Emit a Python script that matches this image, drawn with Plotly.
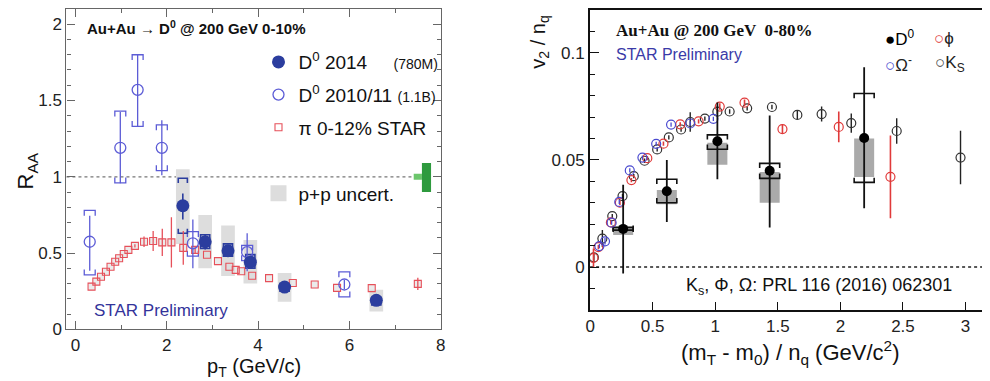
import plotly.graph_objects as go

# ---------------- Left panel: R_AA vs pT ----------------
d14_pt = [2.35, 2.84, 3.34, 3.83, 4.58, 6.59]
d14_raa = [0.81, 0.574, 0.515, 0.44, 0.277, 0.19]
d14_stat_up = [0.08, 0.05, 0.03, 0.03, 0.02, 0.02]
d14_stat_dn = [0.09, 0.05, 0.03, 0.03, 0.02, 0.02]
d14_sys_hi = [0.99, 0.62, 0.56, 0.49, 0.30, 0.21]
d14_sys_lo = [0.63, 0.53, 0.48, 0.40, 0.25, 0.16]
d14_pp_hi = [1.05, 0.75, 0.68, 0.585, 0.37, 0.26]
d14_pp_lo = [0.56, 0.40, 0.35, 0.30, 0.18, 0.117]

d11_pt = [0.31, 0.98, 1.36, 1.89, 2.57, 3.76, 5.89]
d11_raa = [0.574, 1.19, 1.57, 1.19, 0.564, 0.506, 0.294]
d11_stat_up = [0.17, 0.235, 0.23, 0.18, 0.156, 0.124, 0.03]
d11_stat_dn = [0.19, 0.233, 0.24, 0.18, 0.164, 0.126, 0.03]
d11_sys_hi = [0.78, 1.43, 1.80, 1.34, 0.64, 0.55, 0.377]
d11_sys_lo = [0.357, 0.96, 1.33, 1.04, 0.48, 0.45, 0.213]

pi_pt = [0.35, 0.455, 0.557, 0.665, 0.766, 0.868, 0.954, 1.056, 1.157, 1.30, 1.50,
         1.70, 1.90, 2.10, 2.36, 2.62, 2.88, 3.12, 3.37, 3.51, 3.63, 3.87, 4.24,
         4.76, 5.24, 5.73, 6.49, 7.50]
pi_raa = [0.28, 0.313, 0.345, 0.377, 0.41, 0.443, 0.466, 0.494, 0.521, 0.547, 0.574,
          0.579, 0.57, 0.57, 0.534, 0.521, 0.489, 0.447, 0.41, 0.39, 0.381, 0.351, 0.336,
          0.304, 0.294, 0.272, 0.27, 0.298]
pi_err = [0, 0, 0, 0, 0, 0, 0, 0, 0, 0.01, 0.035, 0.065, 0.09, 0.165, 0.11, 0.02, 0,
          0, 0, 0, 0, 0, 0, 0, 0, 0, 0, 0.04]
pi_sys = [0.025] * len(pi_pt)

norm_x = [7.50, 7.69]
norm_hw = [0.09, 0.10]
norm_lo = [0.98, 0.90]
norm_hi = [1.02, 1.09]
norm_col = ["#6cc66c", "#2e9a3e"]
raa_ref = 1.0

# ---------------- Right panel: v2/nq vs (mT-m0)/nq ----------------
d0_x = [0.264, 0.613, 1.017, 1.435, 2.19]
d0_v2 = [0.0178, 0.0354, 0.0587, 0.0449, 0.0602]
d0_stat_up = [0.0206, 0.0146, 0.0181, 0.0258, 0.033]
d0_stat_dn = [0.0208, 0.0144, 0.0177, 0.0264, 0.0328]
d0_sys_hi = [0.0185, 0.041, 0.0617, 0.0484, 0.081]
d0_sys_lo = [0.0172, 0.030, 0.055, 0.0414, 0.0395]
d0_nf_hi = [0.0188, 0.036, 0.058, 0.0444, 0.060]
d0_nf_lo = [0.015, 0.0293, 0.0477, 0.030, 0.042]

phi_x = [0.027, 0.066, 0.166, 0.238, 0.33, 0.457, 0.586, 0.72, 0.867, 1.036, 1.234,
         1.537, 1.987, 2.40]
phi_v2 = [0.0042, 0.0093, 0.0208, 0.0300, 0.0406, 0.0508, 0.0576, 0.0666, 0.068,
          0.0749, 0.0767, 0.0644, 0.0654, 0.0421]
phi_err = [0.0045, 0.001, 0.001, 0.001, 0.001, 0.001, 0.001, 0.001, 0.001, 0.0015,
           0.0015, 0.002, 0.0072, 0.0193]

om_x = [0.074, 0.119, 0.172, 0.233, 0.317, 0.418, 0.528, 0.647, 0.80, 0.985]
om_v2 = [0.0098, 0.012, 0.0207, 0.0304, 0.0451, 0.0511, 0.0575, 0.0665, 0.067, 0.0692]
om_err = [0.001, 0.0015, 0.001, 0.001, 0.001, 0.001, 0.001, 0.001, 0.001, 0.001]

ks_x = [0.03, 0.098, 0.177, 0.259, 0.349, 0.435, 0.536, 0.629, 0.727, 0.80, 0.917,
        1.017, 1.115, 1.255, 1.453, 1.656, 1.85, 2.087, 2.45, 2.96]
ks_v2 = [0.0045, 0.0133, 0.0238, 0.0331, 0.0424, 0.0496, 0.0549, 0.0605, 0.0642,
         0.0677, 0.0693, 0.0725, 0.0726, 0.0741, 0.0747, 0.071, 0.0714, 0.0672,
         0.0635, 0.0511]
ks_err = [0.002, 0.004, 0.001, 0.001, 0.001, 0.001, 0.001, 0.001, 0.001, 0.0045,
          0.001, 0.001, 0.001, 0.001, 0.001, 0.002, 0.0035, 0.0045, 0.006, 0.0125]
v2_ref = 0.0

FONT = "Liberation Sans, Arial, sans-serif"
SERIF = "Liberation Serif, Times New Roman, serif"

BLUE = "#2b3d9e"
LBLUE = "#5c5cd6"
RED = "#e6505a"


def bracket_path(xs, his, los, hw, tick):
    px, py = [], []
    for x, hi, lo in zip(xs, his, los):
        px += [x - hw, x - hw, x + hw, x + hw, None, x - hw, x - hw, x + hw, x + hw, None]
        py += [hi - tick, hi, hi, hi - tick, None, lo + tick, lo, lo, lo + tick, None]
    return px, py


fig = go.Figure()

# ---- left boxes ----
for x, y, s in zip(pi_pt, pi_raa, pi_sys):
    fig.add_shape(type="rect", xref="x", yref="y", x0=x - 0.07, x1=x + 0.07,
                  y0=y - s, y1=y + s, fillcolor="#ebebeb", line_width=0, layer="below")
for x, lo, hi in zip(d14_pt, d14_pp_lo, d14_pp_hi):
    fig.add_shape(type="rect", xref="x", yref="y", x0=x - 0.15, x1=x + 0.15,
                  y0=lo, y1=hi, fillcolor="#dddddd", line_width=0, layer="below")
for x, hw, lo, hi, c in zip(norm_x, norm_hw, norm_lo, norm_hi, norm_col):
    fig.add_shape(type="rect", xref="x", yref="y", x0=x - hw, x1=x + hw,
                  y0=lo, y1=hi, fillcolor=c, line_width=0)
fig.add_shape(type="line", xref="x domain", yref="y", x0=0, x1=0.93, y0=raa_ref,
              y1=raa_ref, line=dict(color="#777777", width=1.2, dash="dot"), layer="below")

# ---- left traces ----
bx, by = bracket_path(d11_pt, d11_sys_hi, d11_sys_lo, 0.12, 0.035)
fig.add_trace(go.Scatter(x=bx, y=by, mode="lines", line=dict(color=LBLUE, width=1.3),
                         showlegend=False, hoverinfo="skip", xaxis="x", yaxis="y"))
bx, by = bracket_path(d14_pt, d14_sys_hi, d14_sys_lo, 0.1, 0.03)
fig.add_trace(go.Scatter(x=bx, y=by, mode="lines", line=dict(color=BLUE, width=1.6),
                         showlegend=False, hoverinfo="skip", xaxis="x", yaxis="y"))

fig.add_trace(go.Scatter(
    x=pi_pt, y=pi_raa, mode="markers", name="π 0-12% STAR",
    marker=dict(symbol="square-open", size=7, color=RED, line=dict(width=1.1)),
    error_y=dict(type="data", array=pi_err, color=RED, thickness=1.3, width=0),
    xaxis="x", yaxis="y", legend="legend", legendgroup="c", legendrank=3))
fig.add_trace(go.Scatter(
    x=d11_pt, y=d11_raa, mode="markers",
    name="D<sup>0</sup> 2010/11 <span style='font-size:14px'>(1.1B)</span>",
    marker=dict(symbol="circle-open", size=11, color=LBLUE, line=dict(width=1.3)),
    error_y=dict(type="data", array=d11_stat_up, arrayminus=d11_stat_dn, color=LBLUE,
                 thickness=1.3, width=0),
    xaxis="x", yaxis="y", legend="legend", legendgroup="b", legendrank=2))
fig.add_trace(go.Scatter(
    x=d14_pt, y=d14_raa, mode="markers",
    name="D<sup>0</sup> 2014     <span style='font-size:14px'>(780M)</span>",
    marker=dict(symbol="circle", size=13, color=BLUE),
    error_y=dict(type="data", array=d14_stat_up, arrayminus=d14_stat_dn, color=BLUE,
                 thickness=1.6, width=0),
    xaxis="x", yaxis="y", legend="legend", legendgroup="a", legendrank=1))
fig.add_trace(go.Scatter(
    x=[None], y=[None], mode="markers", name="p+p uncert.",
    marker=dict(symbol="square", size=20, color="#dddddd"),
    xaxis="x", yaxis="y", legend="legend2"))

# ---- right boxes ----
for x, lo, hi in zip(d0_x, d0_nf_lo, d0_nf_hi):
    fig.add_shape(type="rect", xref="x2", yref="y2", x0=x - 0.08, x1=x + 0.08,
                  y0=lo, y1=hi, fillcolor="#aaaaaa", line_width=0, layer="below")
fig.add_shape(type="line", xref="x2 domain", yref="y2", x0=0, x1=1, y0=v2_ref,
              y1=v2_ref, line=dict(color="#222222", width=1.5, dash="dot"), layer="below")

bx, by = bracket_path(d0_x, d0_sys_hi, d0_sys_lo, 0.08, 0.0022)
fig.add_trace(go.Scatter(x=bx, y=by, mode="lines", line=dict(color="#111111", width=1.6),
                         showlegend=False, hoverinfo="skip", xaxis="x2", yaxis="y2"))

fig.add_trace(go.Scatter(
    x=ks_x, y=ks_v2, mode="markers", showlegend=False,
    marker=dict(symbol="circle-open", size=9, color="#333333", line=dict(width=1.2)),
    error_y=dict(type="data", array=ks_err, color="#222222", thickness=1.4, width=0),
    xaxis="x2", yaxis="y2"))
fig.add_trace(go.Scatter(
    x=phi_x, y=phi_v2, mode="markers", showlegend=False,
    marker=dict(symbol="circle-open", size=9, color="#e03a3a", line=dict(width=1.2)),
    error_y=dict(type="data", array=phi_err, color="#e03a3a", thickness=1.6, width=0),
    xaxis="x2", yaxis="y2"))
fig.add_trace(go.Scatter(
    x=om_x, y=om_v2, mode="markers", showlegend=False,
    marker=dict(symbol="circle-open", size=9, color="#4a4ad0", line=dict(width=1.2)),
    error_y=dict(type="data", array=om_err, color="#4a4ad0", thickness=1.3, width=0),
    xaxis="x2", yaxis="y2"))
fig.add_trace(go.Scatter(
    x=d0_x, y=d0_v2, mode="markers", showlegend=False,
    marker=dict(symbol="circle", size=10, color="#000000"),
    error_y=dict(type="data", array=d0_stat_up, arrayminus=d0_stat_dn, color="#111111",
                 thickness=1.8, width=0),
    xaxis="x2", yaxis="y2"))

W, H = 990, 381


def px(x):
    return x / W


def py(y):
    return 1 - y / H


ann = [
    dict(text="<b>Au+Au → D<sup>0</sup> @ 200 GeV 0-10%</b>", x=px(73), y=py(20),
         xanchor="left", yanchor="middle", font=dict(family=FONT, size=15, color="#111")),
    dict(text="STAR Preliminary", x=px(80), y=py(311), xanchor="left", yanchor="middle",
         font=dict(family=FONT, size=17, color="#33339a")),
    dict(text="R<sub>AA</sub>", x=px(14), y=py(167), textangle=-90, xanchor="center",
         yanchor="middle", font=dict(family=FONT, size=22, color="#111")),
    dict(text="p<sub>T</sub> (GeV/c)", x=px(243), y=py(369), xanchor="center",
         yanchor="middle", font=dict(family=FONT, size=20, color="#111")),
    dict(text="<b>Au+Au @ 200 GeV  0-80%</b>", x=px(607), y=py(23), xanchor="left",
         yanchor="middle", font=dict(family=SERIF, size=17, color="#111")),
    dict(text="STAR Preliminary", x=px(607), y=py(48), xanchor="left", yanchor="middle",
         font=dict(family=FONT, size=16, color="#3a3aa8")),
    dict(text="K<sub>s</sub>, Φ, Ω: PRL 116 (2016) 062301", x=px(678), y=py(286),
         xanchor="left", yanchor="middle", font=dict(family=FONT, size=18, color="#111")),
    dict(text="v<sub>2</sub> / n<sub>q</sub>", x=px(531), y=py(35), textangle=-90,
         xanchor="center", yanchor="middle", font=dict(family=FONT, size=20, color="#111")),
    dict(text="(m<sub>T</sub> - m<sub>0</sub>) / n<sub>q</sub> (GeV/c<sup>2</sup>)",
         x=px(785), y=py(354), xanchor="center", yanchor="middle",
         font=dict(family=FONT, size=22, color="#111")),
    dict(text="●D<sup>0</sup>", x=px(879), y=py(31), xanchor="left", yanchor="middle",
         font=dict(family=FONT, size=17, color="#000")),
    dict(text="<span style='color:#e03a3a'>○</span>ϕ", x=px(928), y=py(31),
         xanchor="left", yanchor="middle", font=dict(family=FONT, size=17, color="#222")),
    dict(text="<span style='color:#4a4ad0'>○</span>Ω<sup>-</sup>", x=px(879), y=py(57),
         xanchor="left", yanchor="middle", font=dict(family=FONT, size=17, color="#222")),
    dict(text="<span style='color:#444'>○</span>K<sub>S</sub>", x=px(929), y=py(57),
         xanchor="left", yanchor="middle", font=dict(family=FONT, size=17, color="#222")),
]
for a in ann:
    a.update(xref="paper", yref="paper", showarrow=False)

GRAY = "#666666"
left_x = dict(domain=[px(54), px(432)], range=[-0.2, 8], tickvals=[0, 2, 4, 6, 8],
              ticks="inside", ticklen=8, tickcolor=GRAY, showline=True, linecolor=GRAY,
              linewidth=1.2, mirror="ticks", showgrid=False, zeroline=False,
              minor=dict(ticks="inside", ticklen=4, dtick=1, tickcolor=GRAY),
              tickfont=dict(family=FONT, size=17, color="#222"), anchor="y", fixedrange=True)
left_y = dict(domain=[py(330), py(1)], range=[0, 2.1], tickvals=[0, 0.5, 1, 1.5, 2],
              ticktext=["0", "0.5", "1", "1.5", "2"],
              ticks="inside", ticklen=8, tickcolor=GRAY, showline=True, linecolor=GRAY,
              linewidth=1.2, mirror="ticks", showgrid=False, zeroline=False,
              minor=dict(ticks="inside", ticklen=4, dtick=0.1, tickcolor=GRAY),
              tickfont=dict(family=FONT, size=17, color="#222"), anchor="x", fixedrange=True)
right_x = dict(domain=[px(583), px(985)], range=[0, 3.18],
               tickvals=[0, 0.5, 1, 1.5, 2, 2.5, 3], ticktext=["0", "0.5", "1", "1.5", "2", "2.5", "3"],
               ticks="inside", ticklen=8, tickcolor="#111", showline=True, linecolor="#111",
               linewidth=2, mirror=True, showgrid=False, zeroline=False,
               tickfont=dict(family=FONT, size=17, color="#222"), anchor="y2", fixedrange=True)
right_y = dict(domain=[py(310), py(2)], range=[-0.02, 0.12], tickvals=[0, 0.05, 0.1],
               ticktext=["0", "0.05", "0.1"],
               ticks="inside", ticklen=9, tickcolor="#111", showline=True, linecolor="#111",
               linewidth=2, mirror=True, showgrid=False, zeroline=False,
               minor=dict(ticks="inside", ticklen=5, dtick=0.01, tickcolor="#111"),
               tickfont=dict(family=FONT, size=17, color="#222"), anchor="x2", fixedrange=True)

fig.update_layout(
    width=W, height=H, autosize=False,
    margin=dict(l=0, r=0, t=0, b=0),
    paper_bgcolor="white", plot_bgcolor="white",
    xaxis=left_x, yaxis=left_y, xaxis2=right_x, yaxis2=right_y,
    annotations=ann,
    legend=dict(x=px(248), y=py(36), xanchor="left", yanchor="top",
                bgcolor="rgba(0,0,0,0)", tracegroupgap=5, traceorder="grouped",
                font=dict(family=FONT, size=19, color="#111"), itemclick=False),
    legend2=dict(x=px(248), y=py(171), xanchor="left", yanchor="top",
                 bgcolor="rgba(0,0,0,0)", font=dict(family=FONT, size=19, color="#111"),
                 itemclick=False),
    hovermode=False,
)

fig.write_html("out.html")
